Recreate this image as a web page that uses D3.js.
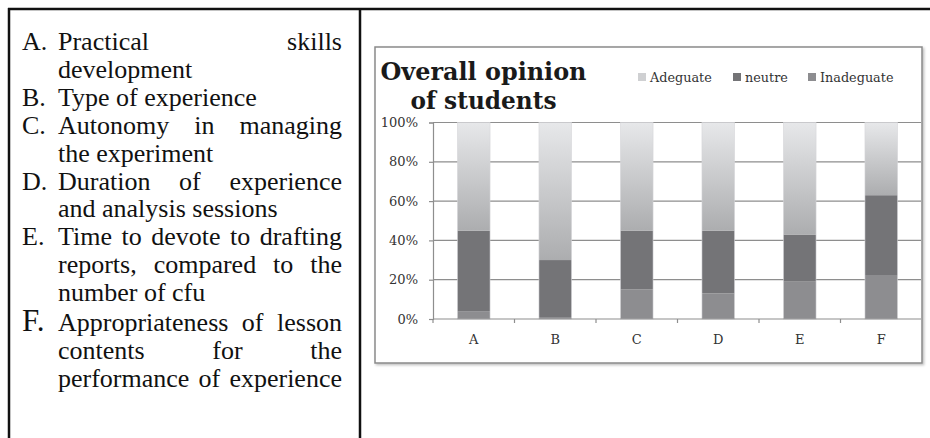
<!DOCTYPE html>
<html><head><meta charset="utf-8">
<script src="https://cdn.jsdelivr.net/npm/d3@7"></script>
<style>html,body{margin:0;padding:0;background:#fff;}svg{display:block;}</style>
</head><body>
<svg id="c" width="930" height="438"></svg>
<script>
// ---- data ----
const categories = ["A","B","C","D","E","F"];
const seriesNames = ["Adeguate","neutre","Inadeguate"];
const inadeguate = [4, 1, 15, 13, 19, 22];
const neutre     = [41, 29, 30, 32, 24, 41];
const adeguate   = [55, 70, 55, 55, 57, 37];
const yTicks = [0, 20, 40, 60, 80, 100];
const descriptions = [
  {label:"A.", lines:[["Practical skills", true],["development", false]]},
  {label:"B.", lines:[["Type of experience", false]]},
  {label:"C.", lines:[["Autonomy in managing", true],["the experiment", false]]},
  {label:"D.", lines:[["Duration of experience", true],["and analysis sessions", false]]},
  {label:"E.", lines:[["Time to devote to drafting", true],["reports, compared to the", true],["number of cfu", false]]},
  {label:"F.", lines:[["Appropriateness of lesson", true],["contents for the", true],["performance of experience", true]]}
];

const svg = d3.select("#c");
svg.append("rect").attr("width",930).attr("height",438).attr("fill","#fff");

// ---- table frame ----
const frame = svg.append("g").attr("stroke","#111").attr("stroke-width",2.5).attr("fill","none");
frame.append("line").attr("x1",8).attr("x2",930).attr("y1",9).attr("y2",9);
frame.append("line").attr("x1",9).attr("x2",9).attr("y1",8).attr("y2",438);
frame.append("line").attr("x1",360).attr("x2",360).attr("y1",8).attr("y2",438);

// ---- left description text ----
const txt = svg.append("g").attr("font-family","'Liberation Serif', serif").attr("fill","#111");
const textX = 58, rightX = 342, labelX = 22, lineH = 27.9, fs = 26;
let lineIdx = 0;
const baseY0 = 50;
descriptions.forEach((d) => {
  const isF = d.label === "F.";
  d.lines.forEach((ln, j) => {
    const y = baseY0 + lineIdx * lineH + (lineIdx >= 10 ? 2 : 0);
    if (j === 0) {
      txt.append("text").attr("x", labelX).attr("y", y)
        .attr("font-size", isF ? 31 : fs).text(d.label);
    }
    const words = ln[0].split(" ");
    if (ln[1] && words.length > 1) {
      const ws = words.map(w => {
        const t = txt.append("text").attr("y", y).attr("font-size",fs).text(w);
        return {t, w: t.node().getComputedTextLength()};
      });
      const total = d3.sum(ws, o => o.w);
      const gap = (rightX - textX - total) / (words.length - 1);
      let x = textX;
      ws.forEach(o => { o.t.attr("x", x); x += o.w + gap; });
    } else {
      txt.append("text").attr("x", textX).attr("y", y).attr("font-size",fs).text(ln[0]);
    }
    lineIdx++;
  });
});

// ---- chart box ----
const defs = svg.append("defs");
const f = defs.append("filter").attr("id","sh").attr("x","-5%").attr("y","-5%").attr("width","110%").attr("height","110%");
f.append("feDropShadow").attr("dx",1.5).attr("dy",1.5).attr("stdDeviation",1).attr("flood-color","#000").attr("flood-opacity",0.25);
svg.append("rect").attr("x",375).attr("y",47).attr("width",547).attr("height",316)
  .attr("fill","#fff").attr("stroke","#8a8a8a").attr("stroke-width",1.5).attr("filter","url(#sh)");

// title
const title = svg.append("g").attr("font-family","'DejaVu Serif', serif").attr("font-weight","bold").attr("fill","#1a1a1a");
title.append("text").attr("x",483.5).attr("y",80).attr("text-anchor","middle").attr("font-size",25)
  .attr("textLength",206).attr("lengthAdjust","spacingAndGlyphs").text("Overall opinion");
title.append("text").attr("x",483.5).attr("y",109).attr("text-anchor","middle").attr("font-size",25)
  .attr("textLength",146).attr("lengthAdjust","spacingAndGlyphs").text("of students");

// gradient for Adeguate
const grad = defs.append("linearGradient").attr("id","gAd").attr("x1",0).attr("x2",0).attr("y1",0).attr("y2",1);
grad.append("stop").attr("offset","0%").attr("stop-color","#e7e8ea");
grad.append("stop").attr("offset","100%").attr("stop-color","#acadaf");

const colors = {Adeguate:"url(#gAd)", neutre:"#747477", Inadeguate:"#8d8d90"};
const legendColors = {Adeguate:"#cfd0d2", neutre:"#747477", Inadeguate:"#8d8d90"};

// scales
const x0 = 433, x1 = 922, yTop = 122.5, yBot = 319;
const xAxisScale = d3.scaleBand().domain(categories).range([x0, x1]).padding(0);
const xBar = d3.scaleBand().domain(categories).range([x0, x1]).paddingInner(0.6).paddingOuter(0.3);
const y = d3.scaleLinear().domain([0,100]).range([yBot, yTop]);

// gridlines
svg.append("g").selectAll("line").data(yTicks.filter(t=>t>0)).join("line")
  .attr("x1", x0).attr("x2", x1 - 1).attr("y1", d=>y(d)).attr("y2", d=>y(d))
  .attr("stroke","#8e8e8e").attr("stroke-width",1.2);

// stacked bars
const rows = categories.map((c,i)=>({cat:c, Inadeguate:inadeguate[i], neutre:neutre[i], Adeguate:adeguate[i]}));
const stack = d3.stack().keys(["Inadeguate","neutre","Adeguate"]);
const layers = stack(rows);
svg.append("g").selectAll("g").data(layers).join("g")
  .attr("fill", d => colors[d.key])
  .selectAll("rect").data(d=>d).join("rect")
  .attr("x", d => xBar(d.data.cat))
  .attr("width", xBar.bandwidth())
  .attr("y", d => y(d[1]))
  .attr("height", d => y(d[0]) - y(d[1]));
// soft edges on bars
svg.append("g").selectAll("rect").data(categories).join("rect")
  .attr("x", d => xBar(d)).attr("width", xBar.bandwidth())
  .attr("y", y(100)).attr("height", y(0)-y(100))
  .attr("fill","none").attr("stroke","#d6d6d8").attr("stroke-width",0.8).attr("stroke-opacity",0.7);

// y axis
const yAxis = svg.append("g").attr("transform",`translate(${x0},0)`)
  .call(d3.axisLeft(y).tickValues(yTicks).tickSize(4).tickPadding(11).tickFormat(d=>d+"%"));
yAxis.select(".domain").attr("stroke","#8e8e8e").attr("stroke-width",1.2);
yAxis.selectAll(".tick line").attr("stroke","#8e8e8e").attr("stroke-width",1.2);
yAxis.selectAll("text").attr("font-family","'DejaVu Serif', serif").attr("font-size",13).attr("fill","#333");

// x axis
const xg = svg.append("g").attr("transform",`translate(0,${yBot})`);
xg.append("line").attr("x1",x0).attr("x2",x1 - 1).attr("stroke","#8e8e8e").attr("stroke-width",1.2);
const bounds = categories.map(c => xAxisScale(c));
xg.selectAll("line.t").data(bounds).join("line").attr("class","t")
  .attr("x1",d=>d).attr("x2",d=>d).attr("y1",0).attr("y2",4)
  .attr("stroke","#8e8e8e").attr("stroke-width",1.2);
xg.selectAll("text").data(categories).join("text")
  .attr("x", d => xAxisScale(d) + xAxisScale.bandwidth()/2)
  .attr("y", 25).attr("text-anchor","middle")
  .attr("font-family","'DejaVu Serif', serif").attr("font-size",13).attr("fill","#333")
  .text(d=>d);

// legend
const legX = [638, 733, 808];
const lg = svg.append("g").attr("font-family","'DejaVu Serif', serif").attr("font-size",12.8).attr("fill","#333");
seriesNames.forEach((s,i)=>{
  lg.append("rect").attr("x",legX[i]).attr("y",73).attr("width",8).attr("height",8).attr("fill",legendColors[s]);
  lg.append("text").attr("x",legX[i]+12).attr("y",82).text(s);
});
</script>
</body></html>
